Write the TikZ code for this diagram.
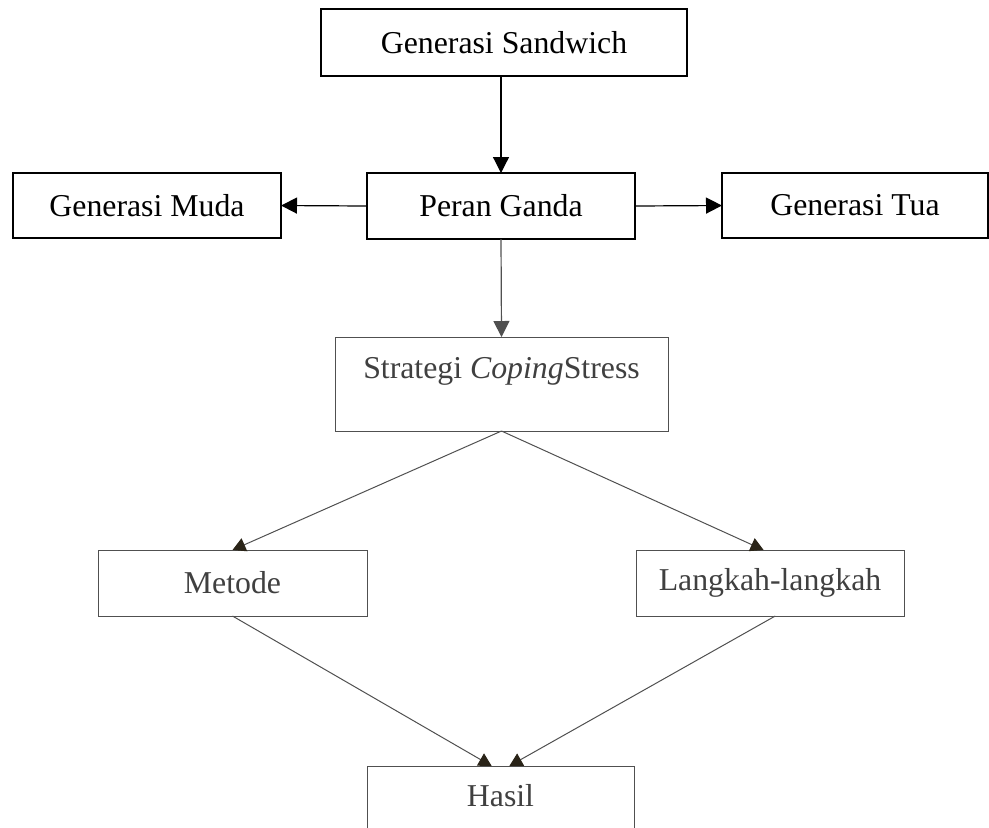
\documentclass[tikz,border=0pt]{standalone}
\usepackage{fontspec}
\setmainfont{Liberation Serif}
\newcommand*{\boxfont}{\fontsize{15.9}{19}\selectfont}
\definecolor{lowgrey}{HTML}{505050}
\definecolor{lowtext}{HTML}{404040}
\definecolor{lowhead}{HTML}{2A2418}
\usetikzlibrary{arrows.meta}
\tikzstyle{base}=[x=0.5pt, y=-0.5pt, inner sep=0pt, outer sep=0pt]
\tikzstyle{box}=[draw=black, line width=0.6pt]
\tikzstyle{lbox}=[draw=lowgrey, line width=0.5pt, text=lowtext]
\tikzstyle{link}=[black, line width=0.6pt, -{Triangle[length=8pt,width=8pt]}]
\tikzstyle{llink}=[lowgrey, line width=0.5pt, -{Triangle[length=6.5pt,width=7pt,color=lowhead]}]

\begin{document}
\begin{tikzpicture}[base]
    \boxfont
        \useasboundingbox (0,0) rectangle (989,827);
        \clip (0,0) rectangle (989,827);
        % upper row
        \node [box, minimum width=183pt, minimum height=33.5pt] (sandwich) at (504,42.5) {Generasi Sandwich};
        \node [box, minimum width=134pt, minimum height=33pt] (peran) at (501,206) {Peran Ganda};
        \node [box, minimum width=134pt, minimum height=32.5pt] (muda) at (147,205.5) {Generasi Muda};
        \node [box, minimum width=133pt, minimum height=32.5pt] (tua) at (855,205.5) {Generasi Tua};
        % lower part
        \node [lbox, minimum width=166.5pt, text height=20.5pt, text depth=26.5pt] (strategi) at (501.5,384) {Strategi \textit{Coping}Stress};
        \node [lbox, minimum width=134.5pt, minimum height=33pt] (metode) at (232.5,583) {Metode};
        \node [lbox, minimum width=134pt, minimum height=33pt] (langkah) at (770,583) {Langkah-langkah};
        \node [lbox, minimum width=133.5pt, text height=20pt, text depth=30pt] (hasil) at (500.5,816) {Hasil};
        \draw [link] (sandwich.south -| peran.north) -- (peran.north);
        \draw [link] (peran.west) -- (muda.east);
        \draw [link] (peran.east) -- (tua.west);
        \draw [link, lowgrey] (peran.south) -- (strategi.north);
        \draw [llink] (strategi.south) -- (metode.north);
        \draw [llink] (strategi.south) -- (langkah.101);
        \draw [llink] (metode.south) -- (hasil.100);
        \draw [llink] (langkah.-81) -- (hasil.80);
    \end{tikzpicture}
\end{document}
